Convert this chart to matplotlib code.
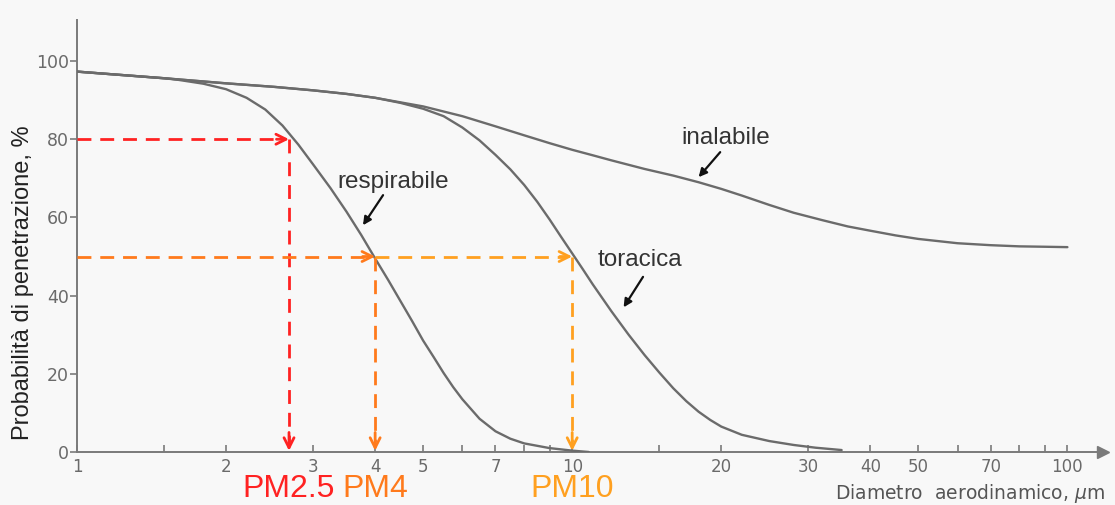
import matplotlib
matplotlib.use("Agg")
import matplotlib.pyplot as plt

# ---------------- DATA ----------------
d_inal = [1, 1.5, 2, 2.5, 3, 3.5, 4, 5, 6, 7, 8, 9, 10, 11, 12, 14, 16, 18, 20,
          22, 25, 28, 32, 36, 40, 45, 50, 60, 70, 80, 90, 100]
v_inal = [97.3, 95.6, 94.3, 93.4, 92.5, 91.6, 90.6, 88.4, 85.9, 83.3, 81.0, 79.0,
          77.3, 75.9, 74.6, 72.4, 70.7, 69.0, 67.3, 65.6, 63.2, 61.2, 59.3, 57.7,
          56.6, 55.4, 54.5, 53.4, 52.9, 52.6, 52.5, 52.4]

d_tor = [1, 1.5, 2, 2.5, 3, 3.5, 4, 4.5, 5, 5.5, 6, 6.5, 7, 7.5, 8, 8.5, 9, 9.5, 10,
         10.5, 11, 12, 13, 14, 15, 16, 17, 18, 19, 20, 22, 25, 28, 31, 35]
v_tor = [97.3, 95.6, 94.3, 93.4, 92.5, 91.6, 90.6, 89.3, 87.8, 85.9, 83.0, 79.7,
         76.0, 72.3, 68.3, 64.0, 59.5, 55.0, 50.8, 46.8, 42.9, 36.0, 30.0, 24.8,
         20.3, 16.3, 13.0, 10.3, 8.2, 6.5, 4.4, 2.8, 1.8, 1.1, 0.5]

d_resp = [1, 1.5, 1.6, 1.8, 2, 2.2, 2.4, 2.6, 2.8, 3, 3.25, 3.5, 3.75, 4, 4.25,
          4.5, 4.75, 5, 5.25, 5.5, 5.75, 6, 6.5, 7, 7.5, 8, 9, 10, 10.8]
v_resp = [97.3, 95.6, 95.2, 94.2, 92.8, 90.6, 87.6, 83.5, 78.6, 73.5, 67.5, 61.5,
          55.5, 49.5, 44.0, 38.6, 33.5, 28.5, 24.3, 20.2, 16.6, 13.5, 8.5, 5.3,
          3.4, 2.2, 1.0, 0.35, 0.0]

pm_labels = ["PM2.5", "PM4", "PM10"]
pm_x      = [2.68, 4.0, 10.0]          # cut diameter, um
pm_y      = [80, 50, 50]               # penetration at the cut, %
pm_start  = [1.0, 1.0, 4.0]            # where the horizontal dashed arrow starts
pm_colors = ["#ff2222", "#ff7a1c", "#ffa020"]

x_ticks   = [1, 1.5, 2, 3, 4, 5, 6, 7, 8, 9, 10, 15, 20, 30, 40, 50, 60, 70, 80, 90, 100]
x_labeled = [1, 2, 3, 4, 5, 7, 10, 20, 30, 40, 50, 70, 100]
y_ticks   = [0, 20, 40, 60, 80, 100]

curve_labels = ["respirabile", "toracica", "inalabile"]
label_tip  = [(3.78, 58.0), (12.7, 37.0), (18.0, 70.3)]    # arrow points at curve
label_tail = [(4.15, 65.7), (13.9, 44.8), (19.9, 76.7)]
label_pos  = [(4.35, 69.0), (13.7, 49.0), (20.4, 80.2)]

# ---------------- FIGURE ----------------
W, H = 1115, 505
fig = plt.figure(figsize=(W / 100, H / 100), dpi=100, facecolor="#f8f8f8")
ax = fig.add_axes([77 / W, 53 / H, (1103 - 77) / W, (452 - 20) / H])
ax.set_facecolor("none")

ax.set_xscale("log")
ax.set_xlim(1, 118)
ax.set_ylim(0, 110.5)

curve_col = "#6b6b6b"
for d, v in [(d_inal, v_inal), (d_tor, v_tor), (d_resp, v_resp)]:
    ax.plot(d, v, color=curve_col, lw=1.7, solid_capstyle="round",
            solid_joinstyle="round", zorder=3)

# axes with arrows
for s in ("top", "right"):
    ax.spines[s].set_visible(False)
for s in ("left", "bottom"):
    ax.spines[s].set_color("#7a7a7a")
    ax.spines[s].set_linewidth(1.4)
ax.plot(1, 0, ">", color="#7a7a7a", ms=8, transform=ax.get_yaxis_transform(),
        clip_on=False)
ax.plot(0, 1, "^", color="#7a7a7a", ms=6, transform=ax.get_xaxis_transform(),
        clip_on=False)

ax.set_xticks(x_ticks)
ax.set_xticklabels([(f"{t:g}" if t in x_labeled else "") for t in x_ticks])
ax.xaxis.set_minor_locator(matplotlib.ticker.NullLocator())
ax.set_yticks(y_ticks)
ax.tick_params(axis="x", direction="in", length=5, width=1.2, color="#7a7a7a",
               labelsize=12, labelcolor="#6a6a6a", pad=4)
ax.tick_params(axis="y", direction="out", length=5, width=1.2, color="#7a7a7a",
               labelsize=12.5, labelcolor="#6a6a6a", pad=1)

# PM dashed arrows
for lab, x, y, x0, c in zip(pm_labels, pm_x, pm_y, pm_start, pm_colors):
    ax.plot([x0, x / 1.03], [y, y], ls=(0, (5, 3.2)), color=c, lw=2.0, zorder=4)
    ax.annotate("", xy=(x, y), xytext=(x / 1.06, y),
                arrowprops=dict(arrowstyle="->", color=c, lw=2.0,
                                mutation_scale=18, shrinkA=0, shrinkB=0), zorder=5)
    ax.plot([x, x], [y, 2.5], ls=(0, (5, 3.2)), color=c, lw=2.0, zorder=4)
    ax.annotate("", xy=(x, 0.3), xytext=(x, 5),
                arrowprops=dict(arrowstyle="->", color=c, lw=2.0,
                                mutation_scale=18, shrinkA=0, shrinkB=0), zorder=5)
    ax.text(x, -0.085, lab, transform=ax.get_xaxis_transform(),
            ha="center", va="center", color=c, fontsize=23,
            family="Liberation Sans")

# curve labels with small black arrows
for lab, tip, tail, pos in zip(curve_labels, label_tip, label_tail, label_pos):
    ax.annotate("", xy=tip, xytext=tail,
                arrowprops=dict(arrowstyle="-|>", color="#111111", lw=1.6,
                                mutation_scale=12, shrinkA=0, shrinkB=0))
    ax.text(pos[0], pos[1], lab, ha="center", va="center", fontsize=17.5,
            color="#333333", family="Liberation Sans")

ax.text(1.002, -0.095, "Diametro  aerodinamico, $\\mu$m", transform=ax.transAxes,
        ha="right", va="center", fontsize=13.5, color="#555555")
fig.text(23 / W, 1 - 283 / H, "Probabilità di penetrazione, %", rotation=90,
         ha="center", va="center", fontsize=17, color="#222222",
         family="Liberation Sans")

fig.savefig("out.png", dpi=100, facecolor=fig.get_facecolor())
